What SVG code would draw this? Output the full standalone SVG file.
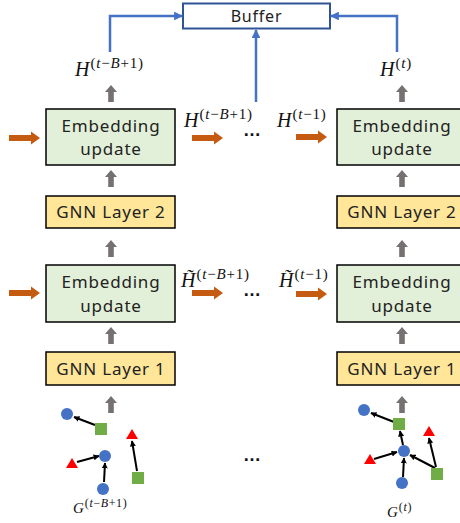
<svg xmlns="http://www.w3.org/2000/svg" width="460" height="523" viewBox="0 0 460 523">
<defs>
<style>
.eu{fill:#E2F0D9;stroke:#000;stroke-width:1.5}
.gnn{fill:#FFE699;stroke:#000;stroke-width:1.5}
.lbl{font-family:"Noto Sans","Open Sans",sans-serif;font-size:17px;letter-spacing:0.8px;fill:#222;text-anchor:middle}
.m{font-family:"Liberation Serif",serif;fill:#111}
.sup{font-size:15px;letter-spacing:0.8px}
.gsup{font-size:12px;letter-spacing:0.6px}
.it{font-style:italic}
.blue{fill:none;stroke:#4472C4;stroke-width:2.5}
.edge{fill:none;stroke:#000;stroke-width:2;marker-end:url(#ah)}
.dots{font-family:"Liberation Sans",sans-serif;font-size:18px;font-weight:bold;fill:#111;text-anchor:middle}
.c{fill:#4472C4}
.s{fill:#70AD47}
.t{fill:#FF0000}
</style>
<marker id="bh" viewBox="0 0 10 10" refX="9" refY="5" markerWidth="3.5" markerHeight="3.5" orient="auto" markerUnits="strokeWidth"><path d="M0,0 L10,5 L0,10 Z" fill="#4472C4"/></marker>
<marker id="ah" viewBox="0 0 10 10" refX="9" refY="5" markerWidth="3" markerHeight="3" orient="auto" markerUnits="strokeWidth"><path d="M0,0 L10,5 L0,10 Z" fill="#000"/></marker>
<path id="ga" d="M0,0 L-6,7 L-2.8,7 L-2.8,17 L2.8,17 L2.8,7 L6,7 Z" fill="#767171"/>
<path id="oa" d="M0,0 L-9,-6.5 L-9,-3 L-31,-3 L-31,3 L-9,3 L-9,6.5 Z" fill="#C55A11"/>
</defs>

<g id="buffer">
<rect x="183" y="3.5" width="147" height="25" fill="#fff" stroke="#2F5597" stroke-width="2"/>
<text x="256.5" y="22" class="lbl" style="font-size:16px">Buffer</text>
</g>

<g id="connectors">
<path class="blue" d="M110,52 V16 H182" marker-end="url(#bh)"/>
<path class="blue" d="M256,102 V30" marker-end="url(#bh)"/>
<path class="blue" d="M397,52 V16 H331" marker-end="url(#bh)"/>
<use href="#ga" x="111" y="85"/>
<use href="#ga" x="111" y="170"/>
<use href="#ga" x="111" y="240"/>
<use href="#ga" x="111" y="327"/>
<use href="#ga" x="111" y="396"/>
<use href="#ga" x="402" y="85"/>
<use href="#ga" x="402" y="170"/>
<use href="#ga" x="402" y="240"/>
<use href="#ga" x="402" y="327"/>
<use href="#ga" x="402" y="396"/>
<use href="#oa" x="40" y="138"/>
<use href="#oa" x="223" y="138"/>
<use href="#oa" x="327" y="137"/>
<use href="#oa" x="40" y="293"/>
<use href="#oa" x="223" y="293"/>
<use href="#oa" x="327" y="294"/>
</g>

<g id="labels">
<text x="75" y="76" class="m"><tspan class="it" font-size="20">H</tspan><tspan class="sup" dy="-8" dx="1">(<tspan class="it">t</tspan>−<tspan class="it">B</tspan>+1)</tspan></text>
<text x="380" y="76" class="m"><tspan class="it" font-size="20">H</tspan><tspan class="sup" dy="-8" dx="1">(<tspan class="it">t</tspan>)</tspan></text>
<text x="184" y="127" class="m"><tspan class="it" font-size="20">H</tspan><tspan class="sup" dy="-8" dx="1">(<tspan class="it">t</tspan>−<tspan class="it">B</tspan>+1)</tspan></text>
<text x="277" y="127" class="m"><tspan class="it" font-size="20">H</tspan><tspan class="sup" dy="-8" dx="1">(<tspan class="it">t</tspan>−1)</tspan></text>
<text x="181" y="287" class="m"><tspan class="it" font-size="20">H&#x303;</tspan><tspan class="sup" dy="-8" dx="1">(<tspan class="it">t</tspan>−<tspan class="it">B</tspan>+1)</tspan></text>
<text x="279" y="287" class="m"><tspan class="it" font-size="20">H&#x303;</tspan><tspan class="sup" dy="-8" dx="1">(<tspan class="it">t</tspan>−1)</tspan></text>
<text x="73" y="513" class="m"><tspan class="it" font-size="15">G</tspan><tspan class="gsup" dy="-6" dx="1">(<tspan class="it">t</tspan>−<tspan class="it">B</tspan>+1)</tspan></text>
<text x="387" y="517" class="m"><tspan class="it" font-size="15">G</tspan><tspan class="gsup" dy="-6" dx="1">(<tspan class="it">t</tspan>)</tspan></text>
<text x="252" y="136" class="dots">…</text>
<text x="252" y="296" class="dots">…</text>
<text x="252" y="461" class="dots">…</text>
</g>

<g id="eu2-left"><rect x="46" y="109" width="129" height="56" class="eu"/><text x="111" y="132" class="lbl">Embedding</text><text x="111" y="155" class="lbl">update</text></g>
<g id="gnn2-left"><rect x="46" y="196" width="129" height="32" class="gnn"/><text x="111" y="218" class="lbl">GNN Layer 2</text></g>
<g id="eu1-left"><rect x="46" y="265" width="129" height="57" class="eu"/><text x="111" y="288" class="lbl">Embedding</text><text x="111" y="312" class="lbl">update</text></g>
<g id="gnn1-left"><rect x="46" y="352" width="129" height="33" class="gnn"/><text x="111" y="375" class="lbl">GNN Layer 1</text></g>

<g id="eu2-right"><rect x="337" y="109" width="129" height="56" class="eu"/><text x="402" y="132" class="lbl">Embedding</text><text x="402" y="155" class="lbl">update</text></g>
<g id="gnn2-right"><rect x="337" y="196" width="129" height="32" class="gnn"/><text x="402" y="218" class="lbl">GNN Layer 2</text></g>
<g id="eu1-right"><rect x="337" y="265" width="129" height="57" class="eu"/><text x="402" y="288" class="lbl">Embedding</text><text x="402" y="312" class="lbl">update</text></g>
<g id="gnn1-right"><rect x="337" y="352" width="129" height="33" class="gnn"/><text x="402" y="375" class="lbl">GNN Layer 1</text></g>

<g id="graph-left">
<path class="edge" d="M95,425 L74,417"/>
<path class="edge" d="M137,471 L132,441"/>
<path class="edge" d="M77,462 L99,456"/>
<path class="edge" d="M104,482 L105,463"/>
<circle cx="67" cy="414" r="6" class="c"/>
<rect x="95" y="423" width="12" height="12" class="s"/>
<path d="M132,429 L138,439 L126,439 Z" class="t"/>
<circle cx="105" cy="456" r="6" class="c"/>
<path d="M72,458 L78,468 L66,468 Z" class="t"/>
<circle cx="103" cy="489" r="6" class="c"/>
<rect x="132" y="472" width="12" height="12" class="s"/>
</g>

<g id="graph-right">
<path class="edge" d="M394,422 L371,413"/>
<path class="edge" d="M403,445 L400,431"/>
<path class="edge" d="M374,459 L397,452"/>
<path class="edge" d="M403,477 L404,458"/>
<path class="edge" d="M435,468 L410,455"/>
<path class="edge" d="M436,467 L429,438"/>
<circle cx="364" cy="410" r="6" class="c"/>
<rect x="393" y="418" width="12" height="12" class="s"/>
<path d="M429,426 L435,436 L423,436 Z" class="t"/>
<circle cx="404" cy="451" r="6" class="c"/>
<path d="M370,454 L376,464 L364,464 Z" class="t"/>
<circle cx="402" cy="483" r="6" class="c"/>
<rect x="431" y="468" width="12" height="12" class="s"/>
</g>
</svg>
